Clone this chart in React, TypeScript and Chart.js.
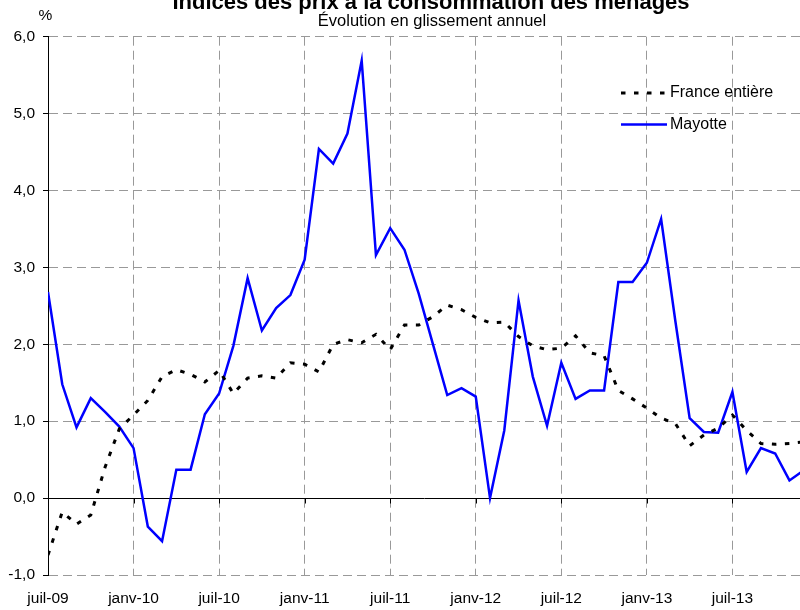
import { useEffect, useRef } from 'react';
import { Chart, registerables } from 'chart.js';

Chart.register(...registerables);

const months = [
  'juil-09', 'août-09', 'sept-09', 'oct-09', 'nov-09', 'déc-09',
  'janv-10', 'févr-10', 'mars-10', 'avr-10', 'mai-10', 'juin-10',
  'juil-10', 'août-10', 'sept-10', 'oct-10', 'nov-10', 'déc-10',
  'janv-11', 'févr-11', 'mars-11', 'avr-11', 'mai-11', 'juin-11',
  'juil-11', 'août-11', 'sept-11', 'oct-11', 'nov-11', 'déc-11',
  'janv-12', 'févr-12', 'mars-12', 'avr-12', 'mai-12', 'juin-12',
  'juil-12', 'août-12', 'sept-12', 'oct-12', 'nov-12', 'déc-12',
  'janv-13', 'févr-13', 'mars-13', 'avr-13', 'mai-13', 'juin-13',
  'juil-13', 'août-13', 'sept-13', 'oct-13', 'nov-13', 'déc-13',
];

const franceEntiere = [
  -0.74, -0.18, -0.34, -0.22, 0.4, 0.9,
  1.08, 1.27, 1.58, 1.67, 1.61, 1.51,
  1.66, 1.36, 1.56, 1.59, 1.56, 1.76,
  1.74, 1.64, 2.0, 2.06, 2.02, 2.13,
  1.93, 2.25, 2.25, 2.36, 2.51, 2.45,
  2.35, 2.28, 2.29, 2.1, 1.98, 1.93,
  1.95, 2.11, 1.89, 1.85, 1.4, 1.29,
  1.17, 1.04, 0.97, 0.68, 0.82, 0.91,
  1.08, 0.88, 0.71, 0.7, 0.71, 0.73,
];

const mayotte = [
  2.68, 1.48, 0.92, 1.3, 1.12, 0.93,
  0.65, -0.37, -0.56, 0.37, 0.37, 1.09,
  1.36, 1.98, 2.86, 2.18, 2.47, 2.64,
  3.1, 4.54, 4.35, 4.74, 5.69, 3.16,
  3.51, 3.23, 2.66, 2.0, 1.34, 1.43,
  1.32, 0.0, 0.88, 2.57, 1.58, 0.94,
  1.76, 1.29, 1.4, 1.4, 2.81, 2.81,
  3.06, 3.63, 2.3, 1.04, 0.86, 0.85,
  1.38, 0.34, 0.65, 0.58, 0.23, 0.36,
];

const xTickIndices = [0, 6, 12, 18, 24, 30, 36, 42, 48];
const yTickValues = [-1, 0, 1, 2, 3, 4, 5, 6];

const titleText = 'Indices des prix à la consommation des ménages';
const subtitleText = 'Évolution en glissement annuel';
const unitText = '%';

const FONT = '"Liberation Sans", Arial, sans-serif';

const overlayPlugin = {
  id: 'overlay',
  afterDraw(chart: any) {
    const { ctx, scales } = chart;
    ctx.save();
    // small tick marks on the zero line
    const y0 = Math.round(scales.y.getPixelForValue(0)) + 0.5;
    ctx.strokeStyle = '#000';
    ctx.lineWidth = 1;
    ctx.setLineDash([]);
    xTickIndices.forEach((v) => {
      const x = Math.round(scales.x.getPixelForValue(v)) + 0.5;
      ctx.beginPath();
      ctx.moveTo(x, y0);
      ctx.lineTo(x, y0 + 5);
      ctx.stroke();
    });
    // titles
    ctx.fillStyle = '#000';
    ctx.textAlign = 'center';
    ctx.textBaseline = 'alphabetic';
    ctx.font = `bold 22px ${FONT}`;
    ctx.fillText(titleText, 431, 9);
    ctx.font = `16.5px ${FONT}`;
    ctx.fillText(subtitleText, 432, 26);
    ctx.font = `15.5px ${FONT}`;
    ctx.fillText(unitText, 45.5, 20);
    // legend inside plot
    chart.data.datasets.forEach((ds: any, i: number) => {
      const y = 93 + i * 31.5;
      ctx.strokeStyle = ds.borderColor;
      ctx.lineWidth = ds.borderWidth;
      ctx.setLineDash(ds.borderDash || []);
      ctx.beginPath();
      ctx.moveTo(621, y);
      ctx.lineTo(667, y);
      ctx.stroke();
      ctx.setLineDash([]);
      ctx.fillStyle = '#000';
      ctx.textAlign = 'left';
      ctx.textBaseline = 'middle';
      ctx.font = `16px ${FONT}`;
      ctx.fillText(ds.label, 670, y);
    });
    ctx.restore();
  },
};

export default function App() {
  const canvasRef = useRef<HTMLCanvasElement | null>(null);

  useEffect(() => {
    const canvas = canvasRef.current;
    if (!canvas) return;
    const tickFont = { family: FONT, size: 15.5 };
    const chart = new Chart(canvas, {
      type: 'line',
      data: {
        datasets: [
          {
            label: 'France entière',
            data: franceEntiere.map((v, i) => ({ x: i, y: v })),
            borderColor: '#000000',
            borderWidth: 3,
            borderDash: [4.5, 8.5],
            pointRadius: 0,
            fill: false,
            tension: 0,
          },
          {
            label: 'Mayotte',
            data: mayotte.map((v, i) => ({ x: i, y: v })),
            borderColor: '#0000ff',
            borderWidth: 2.5,
            pointRadius: 0,
            fill: false,
            tension: 0,
          },
        ],
      },
      options: {
        responsive: false,
        animation: false,
        layout: { padding: { top: 36.7, left: 0, right: 0, bottom: 0 } },
        plugins: {
          legend: { display: false },
          tooltip: { enabled: false },
          title: { display: false },
        },
        scales: {
          x: {
            type: 'linear',
            min: 0,
            max: 52.74,
            afterBuildTicks: (a: any) => {
              a.ticks = xTickIndices.map((v) => ({ value: v }));
            },
            afterFit: (a: any) => {
              a.height = 35;
            },
            ticks: {
              callback: (v: any) => months[v as number],
              autoSkip: false,
              maxRotation: 0,
              padding: 14,
              font: tickFont,
              color: '#000',
            },
            grid: { color: '#999', drawTicks: false, lineWidth: 1 },
            border: { display: false, dash: [9, 5] },
          },
          y: {
            min: -1,
            max: 6,
            afterBuildTicks: (a: any) => {
              a.ticks = yTickValues.map((v) => ({ value: v }));
            },
            afterFit: (a: any) => {
              a.width = 48;
            },
            ticks: {
              callback: (v: any) => Number(v).toFixed(1).replace('.', ','),
              padding: 8,
              font: tickFont,
              color: '#000',
            },
            grid: {
              color: (c: any) => (c.tick && c.tick.value === 0 ? '#000' : '#999'),
              lineWidth: 1,
              tickColor: '#000',
              tickLength: 5,
              tickBorderDash: [],
            },
            border: {
              display: true,
              color: '#000',
              width: 1,
              dash: (c: any) => (c.tick && c.tick.value === 0 ? [] : [9, 5]),
            },
          },
        },
      } as any,
      plugins: [overlayPlugin],
    });
    return () => chart.destroy();
  }, []);

  return (
    <canvas
      ref={canvasRef}
      width={800}
      height={610}
      style={{ position: 'absolute', left: 0, top: 0, width: 800, height: 610 }}
    />
  );
}
